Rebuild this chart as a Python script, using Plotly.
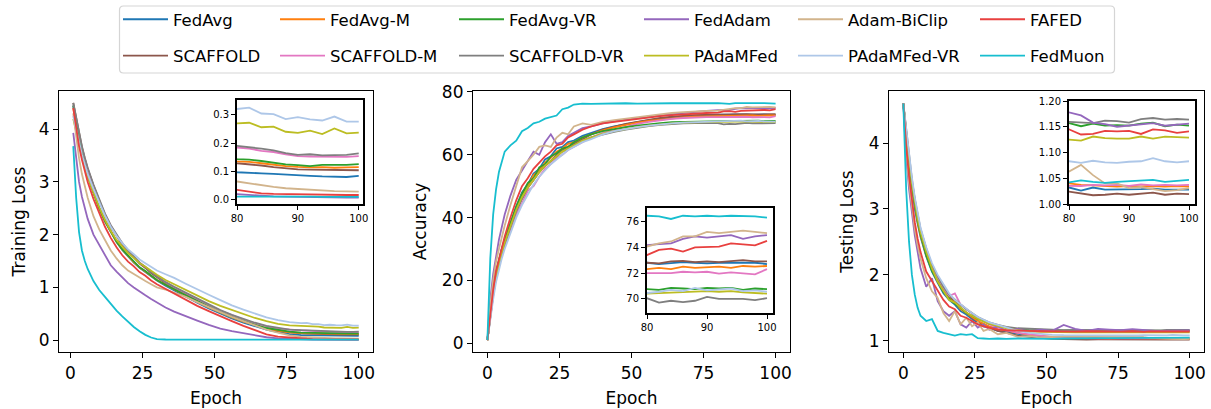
import plotly.graph_objects as go

# ---------------- data ----------------
METHODS = ["FedAvg", "SCAFFOLD", "FedAvg-M", "SCAFFOLD-M", "FedAvg-VR", "SCAFFOLD-VR",
           "FedAdam", "PAdaMFed", "Adam-BiClip", "PAdaMFed-VR", "FAFED", "FedMuon"]
LEGEND_ROW1 = ["FedAvg", "FedAvg-M", "FedAvg-VR", "FedAdam", "Adam-BiClip", "FAFED"]
LEGEND_ROW2 = ["SCAFFOLD", "SCAFFOLD-M", "SCAFFOLD-VR", "PAdaMFed", "PAdaMFed-VR", "FedMuon"]

EPOCHS_TRAIN = [1, 2, 3, 4, 5, 6, 8, 10, 12, 14, 16, 18, 20, 22, 24, 26, 28, 30, 33, 36,
                40, 44, 48, 52, 56, 60, 64, 68, 72, 76, 80, 82, 84, 86, 88, 90, 92, 94, 96, 98, 100]
EPOCHS_EVAL = [0] + EPOCHS_TRAIN

# Training loss
TL_FedAvg = [4.45, 4.1, 3.8, 3.54, 3.32, 3.12, 2.8, 2.5, 2.25, 2.04, 1.86, 1.71, 1.58, 1.47, 1.37, 1.29, 1.21, 1.13, 1.03, 0.94,
             0.82, 0.71, 0.6, 0.5, 0.41, 0.33, 0.26, 0.2, 0.15, 0.115, .096, .095, .092, .090, .087, .085, .083, .081, .080, .079, .083]
TL_FedAvg_M = [4.4, 4.07, 3.78, 3.53, 3.31, 3.11, 2.8, 2.5, 2.26, 2.05, 1.87, 1.72, 1.59, 1.48, 1.38, 1.3, 1.22, 1.14, 1.05, 0.96,
               0.84, 0.73, 0.62, 0.52, 0.43, 0.35, 0.28, 0.22, 0.18, 0.15, .135, .133, .128, .122, .118, .115, .113, .114, .112, .113, .114]
TL_FedAvg_VR = [4.45, 4.1, 3.8, 3.54, 3.32, 3.12, 2.8, 2.51, 2.26, 2.05, 1.87, 1.72, 1.6, 1.5, 1.38, 1.31, 1.22, 1.14, 1.05, 0.96,
                0.85, 0.74, 0.63, 0.53, 0.44, 0.36, 0.29, 0.23, 0.19, 0.16, .143, .141, .136, .130, .124, .121, .118, .122, .121, .122, .125]
TL_FedAdam = [3.93, 3.4, 3.0, 2.72, 2.5, 2.3, 2.0, 1.8, 1.6, 1.42, 1.3, 1.18, 1.08, 1.0, 0.92, 0.85, 0.78, 0.71, 0.62, 0.54,
              0.45, 0.37, 0.29, 0.22, 0.17, 0.13, 0.09, 0.055, 0.035, 0.022, .018, .015, .012, .010, .009, .008, .007, .007, .006, .006, .006]
TL_Adam_BiClip = [4.3, 3.85, 3.45, 3.15, 2.9, 2.7, 2.35, 2.1, 1.9, 1.7, 1.55, 1.42, 1.32, 1.25, 1.18, 1.12, 1.06, 1.0, 0.96, 0.9,
                  0.82, 0.72, 0.62, 0.53, 0.44, 0.36, 0.28, 0.2, 0.14, 0.09, .063, .056, .049, .044, .039, .036, .033, .031, .029, .028, .027]
TL_FAFED = [4.4, 4.0, 3.68, 3.42, 3.2, 3.0, 2.68, 2.4, 2.15, 1.94, 1.76, 1.61, 1.49, 1.4, 1.29, 1.22, 1.13, 1.06, 0.97, 0.88,
            0.76, 0.65, 0.55, 0.45, 0.36, 0.27, 0.19, 0.11, 0.065, 0.045, .033, .026, .021, .019, .018, .017, .016, .016, .015, .015, .015]
TL_SCAFFOLD = [4.5, 4.2, 3.9, 3.66, 3.44, 3.25, 2.93, 2.63, 2.37, 2.15, 1.97, 1.81, 1.67, 1.57, 1.45, 1.37, 1.27, 1.19, 1.08, 0.99,
               0.87, 0.75, 0.64, 0.54, 0.45, 0.36, 0.29, 0.22, 0.17, 0.145, .128, .125, .120, .114, .110, .106, .105, .104, .104, .103, .103]
TL_SCAFFOLD_M = [4.45, 4.15, 3.88, 3.64, 3.43, 3.24, 2.93, 2.64, 2.39, 2.17, 1.99, 1.83, 1.69, 1.58, 1.47, 1.39, 1.3, 1.22, 1.1, 1.0,
                 0.89, 0.77, 0.66, 0.56, 0.47, 0.39, 0.32, 0.26, 0.22, 0.195, .184, .180, .172, .168, .160, .153, .152, .152, .150, .151, .153]
TL_SCAFFOLD_VR = [4.5, 4.2, 3.92, 3.68, 3.46, 3.27, 2.95, 2.66, 2.4, 2.18, 2.0, 1.84, 1.7, 1.59, 1.47, 1.39, 1.29, 1.21, 1.1, 1.01,
                  0.9, 0.78, 0.67, 0.57, 0.48, 0.4, 0.33, 0.27, 0.23, 0.2, .190, .186, .180, .174, .164, .158, .160, .156, .157, .158, .163]
TL_PAdaMFed = [4.2, 3.95, 3.7, 3.48, 3.28, 3.1, 2.8, 2.52, 2.28, 2.07, 1.9, 1.77, 1.65, 1.56, 1.46, 1.39, 1.31, 1.24, 1.14, 1.06,
               0.96, 0.85, 0.74, 0.65, 0.57, 0.49, 0.42, 0.36, 0.31, 0.28, .270, .272, .256, .258, .240, .236, .244, .232, .252, .234, .237]
TL_PAdaMFed_VR = [4.25, 4.0, 3.75, 3.52, 3.33, 3.15, 2.87, 2.6, 2.36, 2.15, 1.98, 1.84, 1.72, 1.63, 1.53, 1.46, 1.39, 1.32, 1.25, 1.18,
                  1.07, 0.96, 0.86, 0.76, 0.66, 0.58, 0.5, 0.43, 0.38, 0.34, .321, .326, .305, .303, .285, .292, .284, .280, .294, .276, .276]
TL_FedMuon = [3.68, 2.7, 2.05, 1.7, 1.5, 1.35, 1.12, 0.95, 0.82, 0.68, 0.56, 0.45, 0.34, 0.25, 0.17, 0.1, 0.05, 0.02, 0.012, 0.011,
              0.011, 0.01, 0.01, 0.01, 0.01, 0.01, 0.01, 0.01, 0.01, 0.01, .010, .010, .010, .009, .009, .009, .009, .008, .008, .008, .008]

# Accuracy
ACC_FedAvg = [1, 10, 17, 22.5, 26.5, 30, 33, 38.5, 43.5, 48, 50.5, 54, 55.5, 58.5, 59.5, 62, 62.5, 64, 64.5, 66, 67,
              68.2, 69, 69.8, 70.4, 71, 71.5, 71.9, 72.2, 72.5, 72.7, 72.8, 72.7, 72.75, 72.85, 72.8, 72.75, 72.8, 72.8, 72.85, 72.8, 72.7]
ACC_FedAvg_M = [1, 9.5, 16.5, 22, 26, 29.5, 32.5, 38, 43, 47.5, 50, 53.5, 55, 57.5, 59, 61, 62, 63.5, 64, 65.5, 66.5,
                67.8, 68.7, 69.5, 70.2, 70.8, 71.2, 71.6, 71.9, 72.1, 72.2, 72.3, 72.4, 72.3, 72.5, 72.4, 72.45, 72.5, 72.4, 72.55, 72.5, 72.55]
ACC_FedAvg_VR = [1, 10, 17, 22.5, 26.5, 30, 33, 38.5, 43.5, 47.5, 51, 52.5, 56, 57, 59.5, 60.5, 62, 62.5, 64, 65.5, 66.5,
                 67.5, 68.2, 68.8, 69.3, 69.8, 70.1, 70.4, 70.5, 70.6, 70.7, 70.75, 70.7, 70.85, 70.8, 70.75, 70.85, 70.8, 70.85, 70.7, 70.8, 70.75]
ACC_FedAdam = [1, 14, 22, 28, 33, 37, 41, 47, 52, 55, 58, 61, 60, 64, 66.5, 63.5, 64, 66, 67, 68.5, 69,
               70, 70.6, 71.2, 71.8, 72.2, 72.6, 73, 73.4, 73.8, 74.0, 74.2, 74.25, 74.3, 74.65, 74.85, 74.75, 74.85, 74.95, 74.65, 74.85, 74.95]
ACC_Adam_BiClip = [1, 12, 20, 26, 30, 34, 37.5, 44, 50, 56, 58, 60, 62.5, 63, 62.5, 65.5, 67, 66.5, 69, 70, 69.5,
                   70.5, 71, 71.5, 72, 72.5, 73, 73.3, 73.6, 73.9, 74.0, 74.06, 74.3, 74.45, 74.85, 74.85, 75.2, 75.1, 75.2, 75.3, 75.2, 75.1]
ACC_FAFED = [1, 10, 17, 23, 27, 31, 34, 40, 45.5, 50, 52.5, 55.5, 57.5, 59.5, 61, 63, 63.5, 65.5, 66.5, 68, 69,
             70, 70.5, 71, 71.5, 72, 72.3, 72.6, 72.9, 73.1, 73.3, 73.4, 73.8, 73.9, 73.67, 74.0, 74.05, 74.05, 74.3, 74.25, 74.15, 74.5]
ACC_SCAFFOLD = [1, 9, 15.5, 21, 25, 28.5, 31.5, 37, 42, 46, 49.5, 52, 54.5, 56.5, 58, 60, 61.5, 62.5, 63.5, 65, 66.5,
                68, 69, 69.8, 70.5, 71.2, 71.7, 72.1, 72.4, 72.6, 72.7, 72.8, 72.75, 72.9, 72.95, 72.85, 72.9, 72.85, 72.9, 73.0, 72.9, 72.9]
ACC_SCAFFOLD_M = [1, 8.5, 15, 20.5, 24.5, 28, 31, 36, 41, 44.5, 48.5, 50, 53, 55.5, 57, 59, 60, 61.5, 62.5, 64, 65.5,
                  67, 68, 69, 69.8, 70.5, 71, 71.4, 71.7, 71.9, 72.0, 72.0, 72.05, 72.0, 72.1, 72.05, 72.1, 71.95, 72.05, 72.0, 71.9, 72.3]
ACC_SCAFFOLD_VR = [1, 9, 15.5, 21, 25, 28.5, 31.5, 37, 42, 46, 49.5, 52, 54.5, 56.5, 58, 59.5, 61, 62, 63, 64.5, 65.5,
                   66.5, 67.3, 68, 68.6, 69.1, 69.5, 69.8, 70, 70.1, 70.1, 70.05, 69.7, 69.85, 69.75, 69.85, 70.15, 70.0, 70.0, 70.0, 69.9, 70.05]
ACC_PAdaMFed = [1, 9.5, 16, 21.5, 25.5, 29, 32, 37.5, 42.5, 46.5, 49.5, 52, 54.5, 56.5, 58, 59.5, 61, 62, 63, 64.5, 65.5,
                66.7, 67.5, 68.2, 68.8, 69.3, 69.7, 70, 70.2, 70.3, 70.4, 70.4, 70.45, 70.5, 70.55, 70.6, 70.6, 70.55, 70.6, 70.5, 70.45, 70.4]
ACC_PAdaMFed_VR = [1, 8, 14, 19.5, 23.5, 27, 30, 35, 40, 44, 47.5, 50.5, 53, 55, 57, 58.5, 60, 61.5, 62.5, 64, 65,
                   66.5, 67.5, 68.2, 68.8, 69.3, 69.7, 70, 70.2, 70.3, 70.4, 70.45, 70.55, 70.7, 70.6, 70.85, 70.65, 70.7, 70.8, 70.6, 70.65, 70.55]
ACC_FedMuon = [1, 27, 41, 49, 54.5, 57.5, 61, 63, 64.5, 67.5, 68.5, 70, 70.5, 71.5, 72, 72.5, 74.5, 75, 76, 76.3, 76.2,
               76.3, 76.2, 76.4, 76.3, 76.4, 76.3, 76.4, 76.4, 76.3, 76.4, 76.45, 76.4, 76.2, 76.45, 76.4, 76.45, 76.4, 76.45, 76.45, 76.4, 76.3]

# Testing loss
TE_FedAvg = [4.6, 4.05, 3.65, 3.3, 3.0, 2.78, 2.58, 2.28, 2.05, 1.88, 1.72, 1.62, 1.55, 1.45, 1.4, 1.33, 1.28, 1.22, 1.2, 1.15, 1.13,
             1.1, 1.08, 1.06, 1.05, 1.04, 1.04, 1.035, 1.03, 1.03, 1.03, 1.032, 1.026, 1.032, 1.028, 1.028, 1.028, 1.029, 1.030, 1.028, 1.028, 1.028]
TE_FedAvg_M = [4.6, 4.1, 3.7, 3.35, 3.05, 2.8, 2.6, 2.3, 2.08, 1.9, 1.75, 1.64, 1.58, 1.48, 1.42, 1.36, 1.3, 1.26, 1.22, 1.18, 1.15,
               1.12, 1.09, 1.07, 1.06, 1.05, 1.045, 1.04, 1.04, 1.038, 1.04, 1.040, 1.037, 1.036, 1.035, 1.034, 1.035, 1.034, 1.035, 1.034, 1.035, 1.034]
TE_FedAvg_VR = [4.6, 4.1, 3.7, 3.36, 3.06, 2.82, 2.62, 2.3, 2.06, 1.9, 1.74, 1.64, 1.56, 1.5, 1.42, 1.38, 1.33, 1.3, 1.26, 1.23, 1.2,
                1.17, 1.16, 1.16, 1.155, 1.16, 1.155, 1.16, 1.155, 1.16, 1.155, 1.157, 1.151, 1.156, 1.152, 1.153, 1.152, 1.156, 1.158, 1.151, 1.154, 1.152]
TE_FedAdam = [4.6, 3.8, 3.3, 2.95, 2.6, 2.35, 2.1, 1.82, 1.95, 1.6, 1.45, 1.38, 1.45, 1.25, 1.2, 1.3, 1.2, 1.25, 1.17, 1.22, 1.15,
              1.18, 1.14, 1.17, 1.15, 1.24, 1.18, 1.15, 1.18, 1.17, 1.16, 1.178, 1.172, 1.158, 1.155, 1.150, 1.152, 1.155, 1.157, 1.152, 1.154, 1.156]
TE_Adam_BiClip = [4.6, 3.9, 3.4, 3.0, 2.7, 2.45, 2.25, 1.95, 1.75, 1.65, 1.42, 1.3, 1.45, 1.25, 1.35, 1.22, 1.28, 1.15, 1.18, 1.1, 1.12,
                  1.06, 1.07, 1.05, 1.06, 1.06, 1.07, 1.06, 1.07, 1.06, 1.065, 1.063, 1.076, 1.056, 1.040, 1.040, 1.031, 1.033, 1.029, 1.025, 1.027, 1.031]
TE_FAFED = [4.6, 3.95, 3.5, 3.1, 2.8, 2.55, 2.35, 2.05, 1.9, 1.75, 1.62, 1.52, 1.48, 1.38, 1.35, 1.3, 1.25, 1.22, 1.2, 1.17, 1.16,
            1.15, 1.15, 1.145, 1.14, 1.145, 1.14, 1.145, 1.14, 1.145, 1.14, 1.145, 1.135, 1.136, 1.142, 1.141, 1.142, 1.136, 1.145, 1.143, 1.138, 1.141]
TE_SCAFFOLD = [4.6, 4.15, 3.75, 3.4, 3.1, 2.85, 2.65, 2.35, 2.1, 1.92, 1.78, 1.66, 1.6, 1.5, 1.43, 1.35, 1.3, 1.24, 1.2, 1.15, 1.12,
               1.08, 1.06, 1.04, 1.03, 1.025, 1.02, 1.02, 1.022, 1.02, 1.022, 1.024, 1.021, 1.017, 1.018, 1.020, 1.018, 1.020, 1.022, 1.018, 1.020, 1.019]
TE_SCAFFOLD_M = [4.6, 4.15, 3.75, 3.42, 3.12, 2.88, 2.68, 2.38, 2.12, 1.95, 1.8, 1.68, 1.72, 1.55, 1.48, 1.42, 1.35, 1.3, 1.25, 1.2, 1.16,
                 1.12, 1.1, 1.07, 1.055, 1.045, 1.04, 1.04, 1.036, 1.038, 1.036, 1.036, 1.035, 1.037, 1.036, 1.037, 1.035, 1.038, 1.036, 1.037, 1.036, 1.037]
TE_SCAFFOLD_VR = [4.6, 4.2, 3.8, 3.45, 3.15, 2.9, 2.7, 2.4, 2.15, 1.98, 1.82, 1.7, 1.62, 1.55, 1.48, 1.42, 1.36, 1.32, 1.28, 1.24, 1.21,
                  1.19, 1.18, 1.17, 1.165, 1.16, 1.165, 1.16, 1.165, 1.16, 1.162, 1.160, 1.158, 1.157, 1.162, 1.161, 1.158, 1.165, 1.167, 1.164, 1.165, 1.164]
TE_PAdaMFed = [4.6, 4.15, 3.75, 3.4, 3.1, 2.85, 2.65, 2.35, 2.1, 1.9, 1.76, 1.62, 1.58, 1.5, 1.43, 1.38, 1.33, 1.29, 1.26, 1.22, 1.19,
               1.16, 1.14, 1.135, 1.13, 1.13, 1.128, 1.13, 1.128, 1.13, 1.127, 1.125, 1.123, 1.131, 1.128, 1.127, 1.127, 1.131, 1.127, 1.131, 1.130, 1.129]
TE_PAdaMFed_VR = [4.6, 4.2, 3.82, 3.48, 3.18, 2.92, 2.72, 2.42, 2.18, 2.0, 1.85, 1.72, 1.62, 1.55, 1.48, 1.42, 1.36, 1.32, 1.28, 1.24, 1.2,
                  1.15, 1.12, 1.1, 1.09, 1.085, 1.083, 1.085, 1.082, 1.084, 1.082, 1.083, 1.080, 1.084, 1.081, 1.080, 1.082, 1.083, 1.089, 1.083, 1.081, 1.083]
TE_FedMuon = [4.6, 3.3, 2.5, 2.0, 1.7, 1.5, 1.38, 1.3, 1.33, 1.15, 1.12, 1.1, 1.08, 1.1, 1.09, 1.1, 1.04, 1.035, 1.03, 1.035, 1.03,
              1.035, 1.03, 1.035, 1.03, 1.035, 1.04, 1.035, 1.04, 1.04, 1.04, 1.042, 1.046, 1.043, 1.041, 1.043, 1.044, 1.045, 1.047, 1.043, 1.045, 1.047]

TRAIN = {"FedAvg": TL_FedAvg, "FedAvg-M": TL_FedAvg_M, "FedAvg-VR": TL_FedAvg_VR, "FedAdam": TL_FedAdam,
         "Adam-BiClip": TL_Adam_BiClip, "FAFED": TL_FAFED, "SCAFFOLD": TL_SCAFFOLD, "SCAFFOLD-M": TL_SCAFFOLD_M,
         "SCAFFOLD-VR": TL_SCAFFOLD_VR, "PAdaMFed": TL_PAdaMFed, "PAdaMFed-VR": TL_PAdaMFed_VR, "FedMuon": TL_FedMuon}
ACC = {"FedAvg": ACC_FedAvg, "FedAvg-M": ACC_FedAvg_M, "FedAvg-VR": ACC_FedAvg_VR, "FedAdam": ACC_FedAdam,
       "Adam-BiClip": ACC_Adam_BiClip, "FAFED": ACC_FAFED, "SCAFFOLD": ACC_SCAFFOLD, "SCAFFOLD-M": ACC_SCAFFOLD_M,
       "SCAFFOLD-VR": ACC_SCAFFOLD_VR, "PAdaMFed": ACC_PAdaMFed, "PAdaMFed-VR": ACC_PAdaMFed_VR, "FedMuon": ACC_FedMuon}
TEST = {"FedAvg": TE_FedAvg, "FedAvg-M": TE_FedAvg_M, "FedAvg-VR": TE_FedAvg_VR, "FedAdam": TE_FedAdam,
        "Adam-BiClip": TE_Adam_BiClip, "FAFED": TE_FAFED, "SCAFFOLD": TE_SCAFFOLD, "SCAFFOLD-M": TE_SCAFFOLD_M,
        "SCAFFOLD-VR": TE_SCAFFOLD_VR, "PAdaMFed": TE_PAdaMFed, "PAdaMFed-VR": TE_PAdaMFed_VR, "FedMuon": TE_FedMuon}

COLORS = {"FedAvg": "#1f77b4", "FedAvg-M": "#ff7f0e", "FedAvg-VR": "#2ca02c", "FedAdam": "#9467bd",
          "Adam-BiClip": "#d2b48c", "FAFED": "#e8403f", "SCAFFOLD": "#8c564b", "SCAFFOLD-M": "#e377c2",
          "SCAFFOLD-VR": "#7f7f7f", "PAdaMFed": "#bcbd22", "PAdaMFed-VR": "#aec7e8", "FedMuon": "#17becf"}

# ---------------- figure ----------------
W, H = 1211, 409
def fx(px): return px / W
def fy(py): return 1 - py / H

fig = go.Figure()

legend_of = {}
for k in range(6):
    legend_of[LEGEND_ROW1[k]] = "legend" if k == 0 else f"legend{k+1}"
    legend_of[LEGEND_ROW2[k]] = "legend" if k == 0 else f"legend{k+1}"

panels = [(EPOCHS_TRAIN, TRAIN, "x", "y", "x4", "y4"),
          (EPOCHS_EVAL, ACC, "x2", "y2", "x5", "y5"),
          (EPOCHS_EVAL, TEST, "x3", "y3", "x6", "y6")]

for pi, (ep, data, xa, ya, xi, yi) in enumerate(panels):
    for m in METHODS:
        fig.add_trace(go.Scatter(x=ep, y=data[m], mode="lines", name=m,
                                 line=dict(color=COLORS[m], width=1.8),
                                 xaxis=xa, yaxis=ya, legendgroup=m,
                                 legend=legend_of[m], showlegend=(pi == 0)))
    for m in METHODS:
        fig.add_trace(go.Scatter(x=ep, y=data[m], mode="lines", name=m,
                                 line=dict(color=COLORS[m], width=1.8),
                                 xaxis=xi, yaxis=yi, legendgroup=m, showlegend=False))

main_ax = dict(showline=True, linecolor="black", linewidth=1.2, mirror=True, ticks="outside",
               ticklen=5, tickwidth=1.2, tickcolor="black", showgrid=False, zeroline=False,
               automargin=False, tickfont=dict(size=17, color="black"))
inset_ax = dict(showline=True, linecolor="black", linewidth=1.8, mirror=True, ticks="outside",
                ticklen=4, tickwidth=1.2, tickcolor="black", showgrid=False, zeroline=False,
                automargin=False, tickfont=dict(size=10, color="black"))

xt = dict(tickvals=[0, 25, 50, 75, 100])
xit = dict(tickvals=[80, 90, 100])

ytop, ybot = 91, 352
layout = dict(
    width=W, height=H, margin=dict(l=0, r=0, t=0, b=0, pad=0), autosize=False,
    paper_bgcolor="white", plot_bgcolor="white",
    font=dict(family="DejaVu Sans", color="black"),
    xaxis=dict(**main_ax, **xt, domain=[fx(59), fx(373)], range=[-3.95, 104.95], anchor="y",
               title=dict(text="Epoch", font=dict(size=17), standoff=10)),
    yaxis=dict(**main_ax, domain=[fy(ybot), fy(ytop)], range=[-0.225, 4.725], tickvals=[0, 1, 2, 3, 4], anchor="x",
               title=dict(text="Training Loss", font=dict(size=17), standoff=8)),
    xaxis2=dict(**main_ax, **xt, domain=[fx(473), fx(790)], range=[-5, 105], anchor="y2",
                title=dict(text="Epoch", font=dict(size=17), standoff=10)),
    yaxis2=dict(**main_ax, domain=[fy(ybot), fy(ytop)], range=[-2.8, 80.3], tickvals=[0, 20, 40, 60, 80], anchor="x2",
                title=dict(text="Accuracy", font=dict(size=17), standoff=10)),
    xaxis3=dict(**main_ax, **xt, domain=[fx(889), fx(1204)], range=[-5, 105], anchor="y3",
                title=dict(text="Epoch", font=dict(size=17), standoff=10)),
    yaxis3=dict(**main_ax, domain=[fy(ybot), fy(ytop)], range=[0.83, 4.79], tickvals=[1, 2, 3, 4], anchor="x3",
                title=dict(text="Testing Loss", font=dict(size=17), standoff=10)),
    xaxis4=dict(**inset_ax, **xit, domain=[fx(237), fx(363)], range=[80, 100.7], anchor="y4"),
    yaxis4=dict(**inset_ax, domain=[fy(204), fy(100)], range=[-0.017, 0.353], tickvals=[0, 0.1, 0.2, 0.3],
                tickformat=".1f", anchor="x4"),
    xaxis5=dict(**inset_ax, **xit, domain=[fx(647), fx(773)], range=[80, 101], anchor="y5"),
    yaxis5=dict(**inset_ax, domain=[fy(313), fy(208)], range=[68.9, 77.05], tickvals=[70, 72, 74, 76], anchor="x5"),
    xaxis6=dict(**inset_ax, **xit, domain=[fx(1069), fx(1195)], range=[80, 101], anchor="y6"),
    yaxis6=dict(**inset_ax, domain=[fy(204), fy(101)], range=[1.0, 1.2], tickvals=[1.0, 1.05, 1.1, 1.15, 1.2],
                tickformat=".2f", anchor="x6"),
    showlegend=True,
)

text_x = [174, 331, 510, 695, 849, 1031]
for k in range(6):
    key = "legend" if k == 0 else f"legend{k+1}"
    layout[key] = dict(x=fx(text_x[k] - 56), y=fy(2), xanchor="left", yanchor="top",
                       orientation="v", traceorder="grouped", tracegroupgap=12, itemwidth=45,
                       bgcolor="rgba(0,0,0,0)", borderwidth=0,
                       font=dict(size=16.5, color="black"))
fig.update_layout(**layout)

# white backgrounds for insets (below the inset traces, above the main traces)
for xi, yi, xr, yr in [("x4", "y4", [80, 100.7], [-0.017, 0.353]),
                       ("x5", "y5", [80, 101], [68.9, 77.05]),
                       ("x6", "y6", [80, 101], [1.0, 1.2])]:
    fig.add_shape(type="rect", xref=xi, yref=yi, x0=xr[0], x1=xr[1], y0=yr[0], y1=yr[1],
                  fillcolor="white", line=dict(width=0), layer="below")

# legend frame with rounded corners
L, R, T, B, r = 119.5, 1114.5, 6, 73, 4
path = (f"M {fx(L + r)},{fy(T)} L {fx(R - r)},{fy(T)} Q {fx(R)},{fy(T)} {fx(R)},{fy(T + r)} "
        f"L {fx(R)},{fy(B - r)} Q {fx(R)},{fy(B)} {fx(R - r)},{fy(B)} "
        f"L {fx(L + r)},{fy(B)} Q {fx(L)},{fy(B)} {fx(L)},{fy(B - r)} "
        f"L {fx(L)},{fy(T + r)} Q {fx(L)},{fy(T)} {fx(L + r)},{fy(T)} Z")
fig.add_shape(type="path", xref="paper", yref="paper", path=path,
              line=dict(color="#d5d5d5", width=1.2), fillcolor="rgba(255,255,255,0)", layer="above")

fig.write_html("out.html", config={"displayModeBar": False},
               post_script="document.body.style.margin='0px';document.body.style.overflow='hidden';")
